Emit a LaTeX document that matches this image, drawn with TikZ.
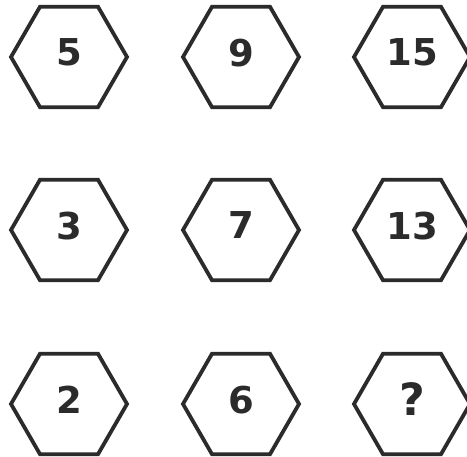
\documentclass[tikz,border=0pt]{standalone}
\usepackage{fontspec}
\setmainfont{DejaVu Sans}
\usetikzlibrary{shapes.geometric}
\definecolor{ink}{HTML}{2B2B2B}
\tikzset{
  hexbox/.style={regular polygon, regular polygon sides=6, minimum size=116pt,
    inner sep=0pt, draw=ink, line width=3.8pt, line join=miter,
    text depth=9pt, font=\fontsize{37}{37}\selectfont\bfseries, text=ink}
}
\begin{document}
\begin{tikzpicture}[x=1pt,y=1pt]
\useasboundingbox (0,0) rectangle (467,457);
\fill[white] (0,0) rectangle (467,457);
\node[hexbox] (h11) at (69,400) {5};
\node[hexbox] (h12) at (241,400) {9};
\node[hexbox] (h13) at (412,400) {15};
\node[hexbox] (h21) at (69,227) {3};
\node[hexbox] (h22) at (241,227) {7};
\node[hexbox] (h23) at (412,227) {13};
\node[hexbox] (h31) at (69,53) {2};
\node[hexbox] (h32) at (241,53) {6};
\node[hexbox] (h33) at (412,53) {\scalebox{1.2}{?}};
\end{tikzpicture}
\end{document}
